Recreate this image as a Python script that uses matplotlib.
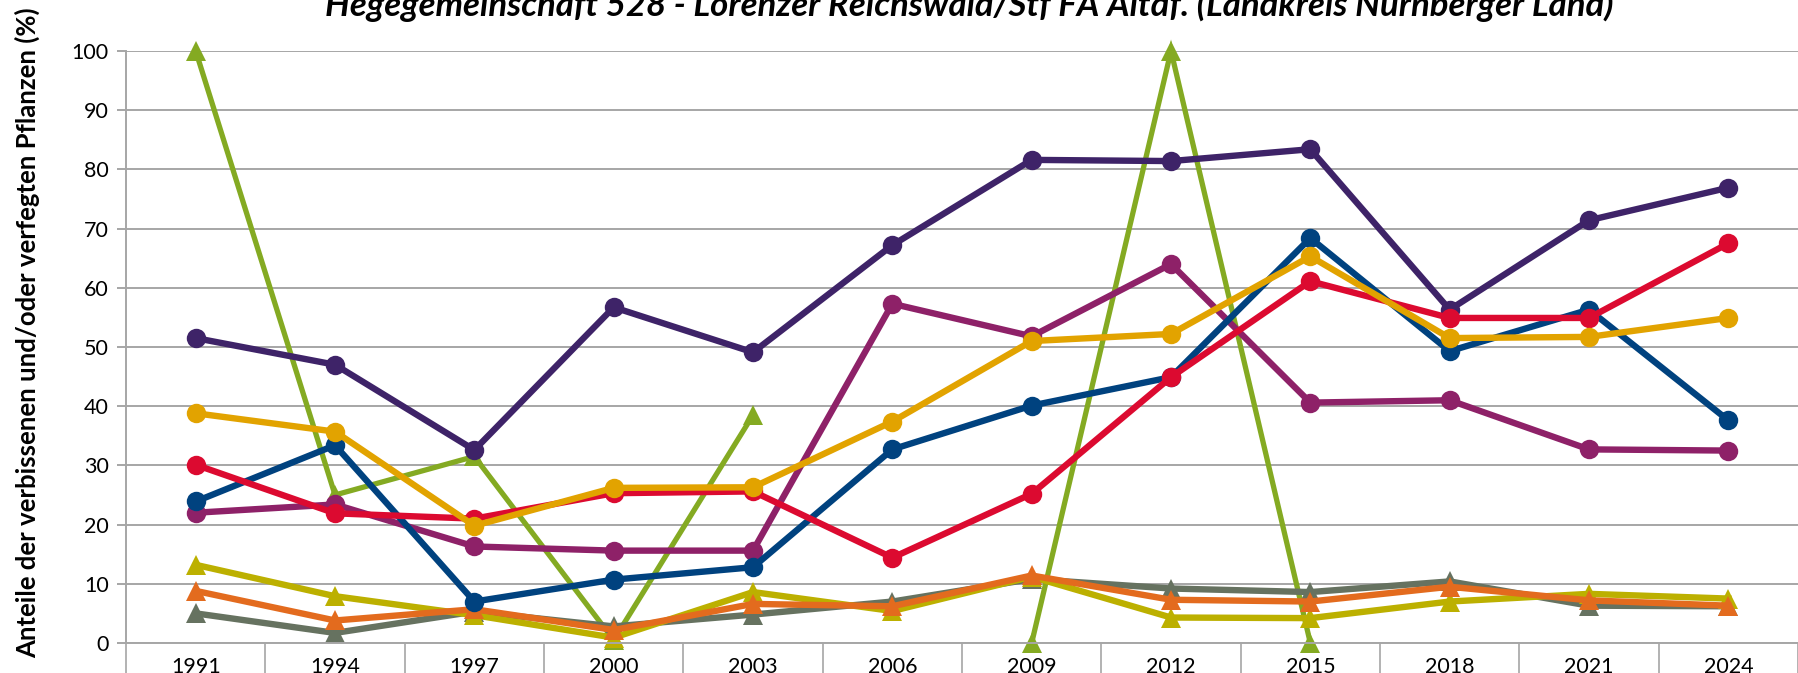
import numpy as np
import matplotlib
matplotlib.use("Agg")
import matplotlib.pyplot as plt
from matplotlib.ticker import FixedLocator, NullFormatter

nan = np.nan

years = ["1991", "1994", "1997", "2000", "2003", "2006", "2009", "2012", "2015", "2018", "2021", "2024"]

# circle series
dark_purple = [51.5, 47.0, 32.6, 56.7, 49.1, 67.2, 81.6, 81.4, 83.4, 56.3, 71.4, 76.9]
blue = [23.9, 33.4, 7.0, 10.7, 12.8, 32.7, 40.1, 44.9, 68.4, 49.3, 56.3, 37.6]
red = [30.1, 21.9, 21.0, 25.3, 25.6, 14.4, 25.2, 44.9, 61.1, 54.9, 54.9, 67.5]
gold = [38.8, 35.7, 19.8, 26.2, 26.3, 37.4, 51.0, 52.2, 65.3, 51.5, 51.7, 54.9]
magenta = [22.0, 23.4, 16.3, 15.6, 15.6, 57.3, 51.8, 64.0, 40.6, 41.0, 32.7, 32.5]

# triangle series
green = [100, 25.0, 31.5, 0.5, 38.5, nan, 0, 100, 0, nan, nan, nan]
grey = [5.0, 1.7, 5.3, 2.8, 4.8, 7.0, 10.8, 9.2, 8.6, 10.4, 6.3, 6.2]
olive = [13.2, 7.9, 4.7, 0.9, 8.6, 5.4, 11.2, 4.3, 4.2, 7.0, 8.3, 7.5]
orange = [8.8, 3.8, 5.7, 2.2, 6.6, 6.2, 11.4, 7.3, 7.0, 9.5, 7.2, 6.3]

title = "Hegegemeinschaft 528 - Lorenzer Reichswald/Stf FA Altdf. (Landkreis Nürnberger Land)"
ylabel = "Anteile der verbissenen und/oder verfegten Pflanzen (%)"


def draw_series(ax, x, values, color, marker, lw=4.6, ms=14):
    ax.plot(x, values, color=color, lw=lw, marker=marker, markersize=ms,
            markeredgewidth=0, solid_joinstyle="miter", clip_on=False)


def main():
    plt.rcParams['font.family'] = ['Lato', 'DejaVu Sans']
    fig = plt.figure(figsize=(17.98, 6.73), dpi=100)
    ax = fig.add_axes([0.0701, 0.0446, 0.9299, 0.8797])

    x = np.arange(len(years))

    draw_series(ax, x, green, "#84AA22", "^", lw=3.8, ms=15)
    draw_series(ax, x, grey, "#667260", "^")
    draw_series(ax, x, olive, "#BCB000", "^")
    draw_series(ax, x, orange, "#E36B1E", "^")
    draw_series(ax, x, magenta, "#8E2168", "o")
    draw_series(ax, x, blue, "#00427F", "o")
    draw_series(ax, x, dark_purple, "#3E2368", "o")
    draw_series(ax, x, red, "#DC0A30", "o")
    draw_series(ax, x, gold, "#E2A300", "o")

    ax.set_xlim(-0.5, len(years) - 0.5)
    ax.set_ylim(0, 100)
    ax.set_yticks(np.arange(0, 101, 10))
    ax.yaxis.grid(True, color="#A6A6A6", lw=1.4)
    ax.set_axisbelow(True)

    ax.set_xticks(x)
    ax.set_xticklabels(years)
    ax.xaxis.set_minor_locator(FixedLocator(np.arange(-0.5, len(years), 1.0)))
    ax.xaxis.set_minor_formatter(NullFormatter())
    ax.tick_params(axis="x", which="major", length=0, pad=10, labelsize=15.5)
    ax.tick_params(axis="x", which="minor", length=30, width=1.2, color="#A6A6A6")
    ax.tick_params(axis="y", which="major", length=6.5, width=1.4, color="#A6A6A6",
                   pad=6, labelsize=15.5)

    for side in ["top", "right"]:
        ax.spines[side].set_visible(False)
    ax.spines["left"].set_color("#A6A6A6")
    ax.spines["left"].set_linewidth(1.4)
    ax.spines["bottom"].set_color("#A6A6A6")
    ax.spines["bottom"].set_linewidth(1.4)

    fig.text(0.0155, 0.505, ylabel, rotation=90, ha="center", va="center",
             fontsize=18.5, fontweight="bold")
    fig.text(0.539, 0.976, title, ha="center", va="baseline",
             fontsize=25, fontweight="bold", fontstyle="italic")

    fig.savefig("out.png", dpi=100)


if __name__ == "__main__":
    main()
